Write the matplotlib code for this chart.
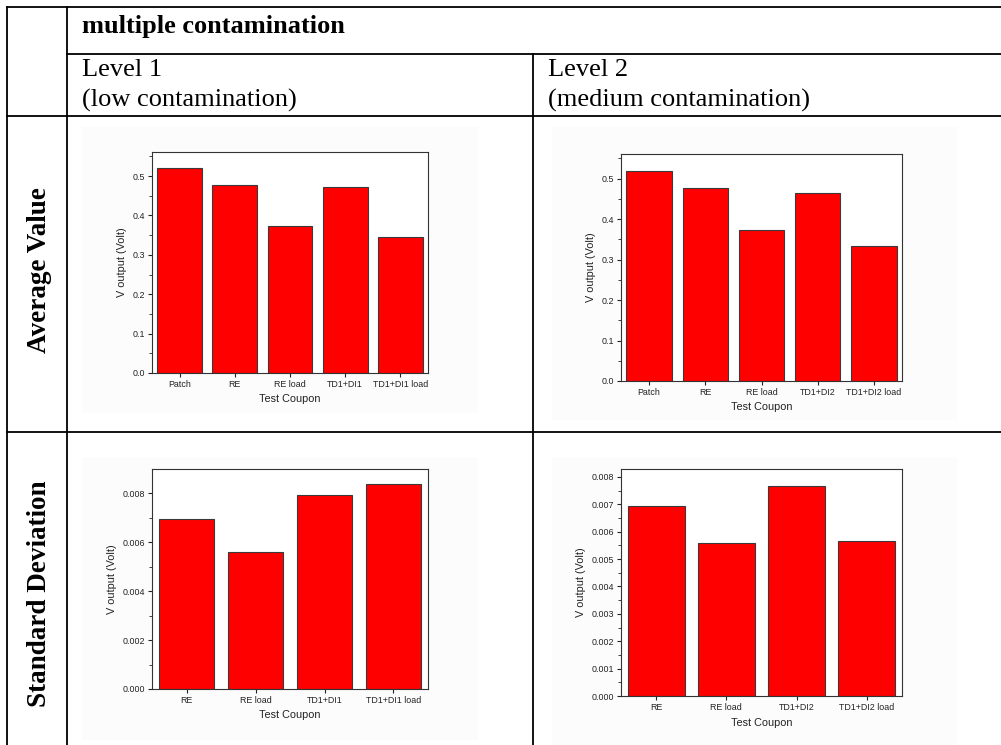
import matplotlib
matplotlib.use("Agg")
import matplotlib.pyplot as plt
from matplotlib.patches import Rectangle
from matplotlib.ticker import MultipleLocator, FormatStrFormatter

# Datos
cupones_n1 = ["Patch", "RE", "RE load", "TD1+DI1", "TD1+DI1 load"]
media_n1 = [0.520, 0.476, 0.372, 0.472, 0.344]

cupones_n2 = ["Patch", "RE", "RE load", "TD1+DI2", "TD1+DI2 load"]
media_n2 = [0.520, 0.477, 0.372, 0.465, 0.334]

cupones_sd1 = ["RE", "RE load", "TD1+DI1", "TD1+DI1 load"]
desv_n1 = [0.00695, 0.00560, 0.00792, 0.00837]

cupones_sd2 = ["RE", "RE load", "TD1+DI2", "TD1+DI2 load"]
desv_n2 = [0.00694, 0.00559, 0.00766, 0.00567]

W, H = 1001, 745
fig = plt.figure(figsize=(W / 100, H / 100), dpi=100)

# Capa de fondo en pixeles para la tabla
fondo = fig.add_axes([0, 0, 1, 1])
fondo.set_xlim(0, W)
fondo.set_ylim(H, 0)
fondo.axis("off")

# fondo casi blanco de las imagenes pegadas
for (x0, y0, x1, y1) in [(82, 127, 478, 413), (552, 127, 957, 420),
                         (82, 457, 478, 740), (552, 457, 957, 745)]:
    fondo.add_patch(Rectangle((x0, y0), x1 - x0, y1 - y0, facecolor="#fcfcfc",
                              edgecolor="none"))

lw = 1.3
# lineas horizontales
fondo.plot([7, W], [7, 7], color="black", lw=lw)
fondo.plot([67, W], [54, 54], color="black", lw=lw)
fondo.plot([7, W], [116, 116], color="black", lw=lw)
fondo.plot([7, W], [432, 432], color="black", lw=lw)
# lineas verticales
fondo.plot([7, 7], [7, H], color="black", lw=lw)
fondo.plot([67, 67], [7, H], color="black", lw=lw)
fondo.plot([533, 533], [54, H], color="black", lw=lw)

serif = "Liberation Serif"
fondo.text(82, 27, "multiple contamination", family=serif, weight="bold",
           fontsize=19, va="center", ha="left")
fondo.text(82, 70, "Level 1", family=serif, fontsize=19, va="center")
fondo.text(82, 100, "(low contamination)", family=serif, fontsize=19, va="center")
fondo.text(548, 70, "Level 2", family=serif, fontsize=19, va="center")
fondo.text(548, 100, "(medium contamination)", family=serif, fontsize=19, va="center")
fondo.text(40, 270, "Average Value", family=serif, weight="bold", fontsize=19.5,
           rotation=90, va="center", ha="center")
fondo.text(40, 594, "Standard Deviation", family=serif, weight="bold", fontsize=19.5,
           rotation=90, va="center", ha="center")


def caja(x0, y0, x1, y1):
    return fig.add_axes([x0 / W, 1 - y1 / H, (x1 - x0) / W, (y1 - y0) / H])


def grafica(ax, cupones, valores, ytop, paso, menor, fmt):
    pos = list(range(len(cupones)))
    ax.bar(pos, valores, width=0.81, color="#ff0000", edgecolor="#3a3a3a", linewidth=0.8)
    ax.set_xlim(-0.5, len(cupones) - 0.5)
    ax.set_ylim(0, ytop)
    ax.set_xticks(pos)
    ax.set_xticklabels(cupones)
    ax.yaxis.set_major_locator(MultipleLocator(paso))
    ax.yaxis.set_minor_locator(MultipleLocator(menor))
    ax.yaxis.set_major_formatter(FormatStrFormatter(fmt))
    ax.tick_params(axis="both", which="major", direction="out", length=3,
                   width=0.8, labelsize=6.4, colors="#222222", pad=2)
    ax.tick_params(axis="y", which="minor", direction="out", length=2, width=0.6,
                   colors="#222222")
    for s in ax.spines.values():
        s.set_linewidth(0.8)
        s.set_color("#333333")
    ax.set_ylabel("V output (Volt)", fontsize=7.8, color="#222222", labelpad=4)
    ax.set_xlabel("Test Coupon", fontsize=7.8, color="#222222", labelpad=4)


sans = "Liberation Sans"
plt.rcParams["font.family"] = sans

ax1 = caja(152, 152, 428, 373)
grafica(ax1, cupones_n1, media_n1, 0.561, 0.1, 0.05, "%.1f")

ax2 = caja(621, 154, 902, 381)
grafica(ax2, cupones_n2, media_n2, 0.561, 0.1, 0.05, "%.1f")

ax3 = caja(152, 469, 428, 689)
grafica(ax3, cupones_sd1, desv_n1, 0.00898, 0.002, 0.001, "%.3f")

ax4 = caja(621, 469, 902, 696)
grafica(ax4, cupones_sd2, desv_n2, 0.00829, 0.001, 0.0005, "%.3f")

fig.savefig("out.png", dpi=100)
